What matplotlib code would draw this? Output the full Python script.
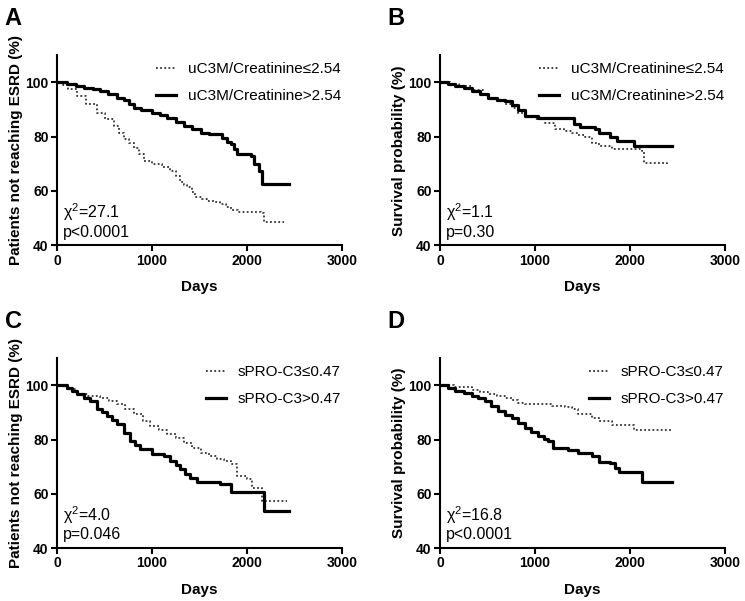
import matplotlib.pyplot as plt

plt.rcParams['font.family'] = ['Liberation Sans', 'DejaVu Sans']

# Panel A: uC3M/Creatinine, ESRD
a_low_t = [0, 60, 120, 210, 300, 421, 500, 596, 650, 702, 760, 807, 860, 912, 1000, 1100, 1193, 1250,
           1298, 1340, 1368, 1420, 1456, 1520, 1579, 1650, 1719, 1780, 1825, 1900, 2000, 2140, 2175, 2386]
a_low_s = [100, 99, 97.5, 95, 92, 88.9, 86.5, 84, 81.5, 79, 77.5, 76, 73.5, 71, 70, 69, 67.4, 65.5,
           63.2, 62.2, 61.3, 59.5, 57.6, 57, 56.4, 55.8, 55.2, 54, 52.8, 52.4, 52.1, 52, 48.5, 48.5]
a_high_t = [0, 105, 200, 281, 380, 456, 540, 632, 700, 760, 807, 880, 1000, 1080, 1158, 1250, 1333,
            1420, 1509, 1600, 1684, 1740, 1790, 1825, 1860, 1895, 2035, 2070, 2123, 2158, 2439]
a_high_s = [100, 99.5, 98.6, 98, 97.4, 96.8, 95.6, 94.4, 93.5, 92, 90.7, 89.8, 88.9, 88, 87, 85.5, 84,
            82.8, 81.5, 81, 80.9, 79.5, 78.2, 77.2, 75.5, 73.6, 73, 70, 67.4, 62.5, 62.5]

# Panel B: uC3M/Creatinine, survival
b_low_t = [0, 100, 200, 333, 450, 509, 600, 684, 760, 825, 900, 1000, 1105, 1210, 1300, 1386, 1450,
           1526, 1596, 1667, 1807, 2123, 2140, 2386]
b_low_s = [100, 99.3, 98.6, 97.2, 95.8, 94.3, 93, 92, 90.5, 88.8, 87.6, 86.6, 85.2, 82.7, 82, 81.5, 80.8,
           79.7, 77.8, 76.6, 75.4, 74.8, 70.3, 70]
b_high_t = [0, 80, 158, 250, 333, 420, 509, 600, 684, 760, 825, 895, 1035, 1351, 1404, 1474, 1632, 1667,
            1789, 1860, 2035, 2439]
b_high_s = [100, 99.3, 98.7, 97.8, 96.8, 95.6, 94.1, 93.6, 93.1, 91.5, 90, 87.6, 87, 86.8, 84.6, 83.4,
            82.7, 81.5, 80, 78.5, 76.5, 76.5]

# Panel C: sPRO-C3, ESRD
c_low_t = [0, 100, 210, 330, 456, 550, 632, 720, 807, 900, 982, 1070, 1158, 1250, 1333, 1420, 1509, 1600,
           1684, 1760, 1825, 1895, 2000, 2052, 2158, 2421]
c_low_s = [100, 98.5, 96.7, 96.2, 95.5, 94.3, 93, 91.2, 89.3, 87, 85, 83.5, 82, 80.5, 78.9, 77, 75.2,
           74, 72.8, 72, 71, 66.6, 65.4, 62.3, 57.2, 57.2]
c_high_t = [0, 105, 160, 210, 280, 351, 421, 470, 526, 580, 632, 702, 772, 820, 877, 1000, 1123, 1193,
            1250, 1298, 1350, 1403, 1474, 1719, 1825, 2140, 2175, 2439]
c_high_s = [100, 99.1, 98, 96.7, 95.5, 94.2, 91.2, 90, 88.7, 87.2, 85.6, 82.6, 79.5, 78, 76.4, 74.6, 74,
            72.1, 70.5, 69, 67.5, 66, 64.2, 63.6, 60.5, 60.5, 53.7, 53.7]

# Panel D: sPRO-C3, survival
d_low_t = [0, 150, 333, 420, 509, 600, 684, 760, 825, 895, 1175, 1316, 1386, 1456, 1596, 1667, 1807,
           2035, 2439]
d_low_s = [100, 99.2, 98.3, 97.5, 96.7, 96, 95.4, 94.5, 93.6, 93.2, 92.4, 92.1, 91.1, 89.3, 88, 86.8,
           85.5, 83.7, 83]
d_high_t = [0, 80, 158, 250, 333, 400, 474, 540, 614, 680, 754, 820, 895, 960, 1035, 1090, 1140, 1193,
            1351, 1456, 1596, 1667, 1789, 1842, 1877, 2123, 2439]
d_high_s = [100, 99, 97.9, 97, 96, 95.2, 94.2, 92.5, 90.5, 89.2, 88, 86.2, 84.3, 82.7, 81.2, 80.2,
            79.4, 76.9, 76.3, 75, 73.8, 71.9, 71.4, 69.5, 68, 64.5, 64.5]

ylab_esrd = 'Patients not reaching ESRD (%)'
ylab_surv = 'Survival probability (%)'
leg_uc3m = ['uC3M/Creatinine\u22642.54', 'uC3M/Creatinine>2.54']
leg_spro = ['sPRO-C3\u22640.47', 'sPRO-C3>0.47']

panels = [
    ('A', [0.0765, 0.592, 0.383, 0.316], a_low_t, a_low_s, a_high_t, a_high_s, ylab_esrd, leg_uc3m,
     '27.1', 'p<0.0001'),
    ('B', [0.5906, 0.592, 0.383, 0.316], b_low_t, b_low_s, b_high_t, b_high_s, ylab_surv, leg_uc3m,
     '1.1', 'p=0.30'),
    ('C', [0.0765, 0.088, 0.383, 0.316], c_low_t, c_low_s, c_high_t, c_high_s, ylab_esrd, leg_spro,
     '4.0', 'p=0.046'),
    ('D', [0.5906, 0.088, 0.383, 0.316], d_low_t, d_low_s, d_high_t, d_high_s, ylab_surv, leg_spro,
     '16.8', 'p<0.0001'),
]

fig = plt.figure(figsize=(7.45, 6.01), dpi=100)

for letter, pos, lt, ls, ht, hs, ylab, leg, chi, pval in panels:
    ax = fig.add_axes(pos)
    ax.plot(lt, ls, drawstyle='steps-post', color='#333333', lw=1.3, ls=(0, (1, 1.3)), label=leg[0])
    ax.plot(ht, hs, drawstyle='steps-post', color='black', lw=2.3, label=leg[1])
    ax.set_xlim(0, 3000)
    ax.set_ylim(40, 110)
    ax.set_xticks([0, 1000, 2000, 3000])
    ax.set_yticks([40, 60, 80, 100])
    for s in ['top', 'right']:
        ax.spines[s].set_visible(False)
    for s in ['left', 'bottom']:
        ax.spines[s].set_linewidth(1.5)
    ax.tick_params(direction='out', length=4, width=1.5, labelsize=10, pad=2)
    for lab in ax.get_xticklabels() + ax.get_yticklabels():
        lab.set_fontweight('bold')
    ax.set_xlabel('Days', fontsize=11, fontweight='bold', labelpad=9)
    ax.set_ylabel(ylab, fontsize=11, fontweight='bold', labelpad=2)
    ax.legend(loc='upper right', bbox_to_anchor=(1.044, 1.035), frameon=False, fontsize=11,
              handlelength=1.3, handletextpad=0.8, labelspacing=0.85)
    ax.text(0.02, 0.03, '$\\mathregular{\u03c7^2}$=' + chi + '\n' + pval, transform=ax.transAxes,
            fontsize=11.5, va='bottom', ha='left', linespacing=1.1)
    fig.text(pos[0] - 0.07, pos[1] + pos[3] + 0.08, letter, fontsize=17, fontweight='bold',
             va='top', ha='left')

fig.savefig('out.png', dpi=100)
